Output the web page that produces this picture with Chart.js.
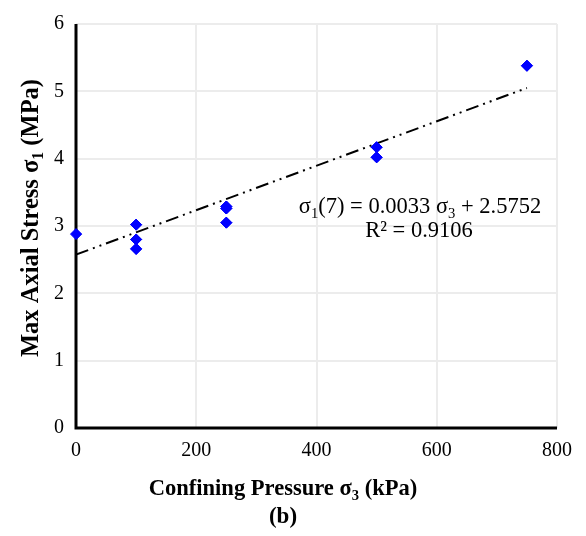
<!DOCTYPE html>
<html>
<head>
<meta charset="utf-8">
<script src="https://cdn.jsdelivr.net/npm/chart.js@4.4.0/dist/chart.umd.min.js"></script>
<style>
  body { margin: 0; background: #fff; }
  #wrap { width: 586px; height: 536px; }
</style>
</head>
<body>
<div id="wrap"><canvas id="myChart" width="586" height="536"></canvas></div>
<script>
// measured points, confining pressure (kPa) vs max axial stress (MPa)
const sigma3 = [0, 100, 100, 100, 250, 250, 250, 500, 500, 750];
const sigma1 = [2.88, 3.02, 2.80, 2.66, 3.29, 3.26, 3.05, 4.17, 4.02, 5.38];

// linear trend from excel
const slope = 0.0033;
const intercept = 2.5752;
const trendX = [0, 750];

const xTicks = [0, 200, 400, 600, 800];
const yTicks = [0, 1, 2, 3, 4, 5, 6];

const serif = "'Liberation Serif', 'Times New Roman', serif";

// draws a list of [text, isSub] pieces, centred on x
function drawPieces(ctx, pieces, x, y, size, bold, squeeze) {
    const f = (s) => (bold ? 'bold ' : '') + s + 'px ' + serif;
    let w = 0;
    pieces.forEach(p => {
        ctx.font = f(p[1] ? size * 0.65 : size);
        w += ctx.measureText(p[0]).width;
    });
    ctx.save();
    ctx.fillStyle = '#000';
    ctx.translate(x, y);
    ctx.scale(squeeze, 1);
    let cx = -w / 2;
    ctx.textAlign = 'left';
    ctx.textBaseline = 'alphabetic';
    pieces.forEach(p => {
        ctx.font = f(p[1] ? size * 0.65 : size);
        ctx.fillText(p[0], cx, p[1] ? size * 0.2 : 0);
        cx += ctx.measureText(p[0]).width;
    });
    ctx.restore();
}

const labels = {
    id: 'labels',
    afterDraw(chart) {
        const ctx = chart.ctx;
        const a = chart.chartArea;
        // axis lines
        ctx.save();
        ctx.strokeStyle = '#000';
        ctx.lineWidth = 3;
        ctx.beginPath();
        ctx.moveTo(a.left, a.top);
        ctx.lineTo(a.left, a.bottom);
        ctx.lineTo(a.right, a.bottom);
        ctx.stroke();
        ctx.restore();

        // redraw points over the axis line
        ctx.save();
        chart.getDatasetMeta(0).data.forEach(el => el.draw(ctx));
        ctx.restore();

        // equation
        drawPieces(ctx, [['σ', 0], ['1', 1], ['(7) = 0.0033 σ', 0], ['3', 1], [' + 2.5752', 0]],
            420, 213, 22.5, false, 1);
        drawPieces(ctx, [['R² = 0.9106', 0]], 419, 237, 22.5, false, 1);

        // x title
        drawPieces(ctx, [['Confining Pressure σ', 0], ['3', 1], [' (kPa)', 0]],
            283, 495, 23, true, 0.98);
        drawPieces(ctx, [['(b)', 0]], 283, 523, 23, true, 1);

        // y title
        ctx.save();
        ctx.translate(38, 218);
        ctx.rotate(-Math.PI / 2);
        drawPieces(ctx, [['Max Axial Stress σ', 0], ['1', 1], [' (MPa)', 0]],
            0, 0, 24.5, true, 1);
        ctx.restore();
    }
};

const ctx = document.getElementById('myChart');
const myChart = new Chart(ctx, {
    type: 'scatter',
    data: {
        datasets: [{
            label: 'data',
            data: sigma3.map((x, i) => ({ x: x, y: sigma1[i] })),
            pointStyle: 'rectRot',
            pointRadius: 5.5,
            backgroundColor: '#0000ff',
            borderColor: '#0000ff',
            borderWidth: 1,
            order: 1
        }, {
            label: 'trend',
            type: 'line',
            data: trendX.map(x => ({ x: x, y: slope * x + intercept })),
            borderColor: '#000',
            borderWidth: 2,
            borderDash: [13, 5, 2, 5, 2, 5],
            pointRadius: 0,
            fill: false,
            order: 2
        }]
    },
    options: {
        responsive: false,
        animation: false,
        layout: { padding: { top: 18, right: 29, left: 0, bottom: 0 } },
        plugins: {
            legend: { display: false },
            tooltip: { enabled: false }
        },
        scales: {
            x: {
                type: 'linear',
                min: 0,
                max: 800,
                afterBuildTicks: (s) => { s.ticks = xTicks.map(v => ({ value: v })); },
                afterFit: (s) => { s.height = 108; },
                grid: { color: '#ececec', lineWidth: 2, drawTicks: false },
                border: { display: false },
                ticks: {
                    color: '#000',
                    padding: 11,
                    font: { family: serif, size: 20 }
                }
            },
            y: {
                min: 0,
                max: 6,
                afterBuildTicks: (s) => { s.ticks = yTicks.map(v => ({ value: v })); },
                afterFit: (s) => { s.width = 76; },
                grid: { color: '#ececec', lineWidth: 2, drawTicks: false },
                border: { display: false },
                ticks: {
                    color: '#000',
                    padding: 12,
                    font: { family: serif, size: 20 }
                }
            }
        }
    },
    plugins: [labels]
});
</script>
</body>
</html>
